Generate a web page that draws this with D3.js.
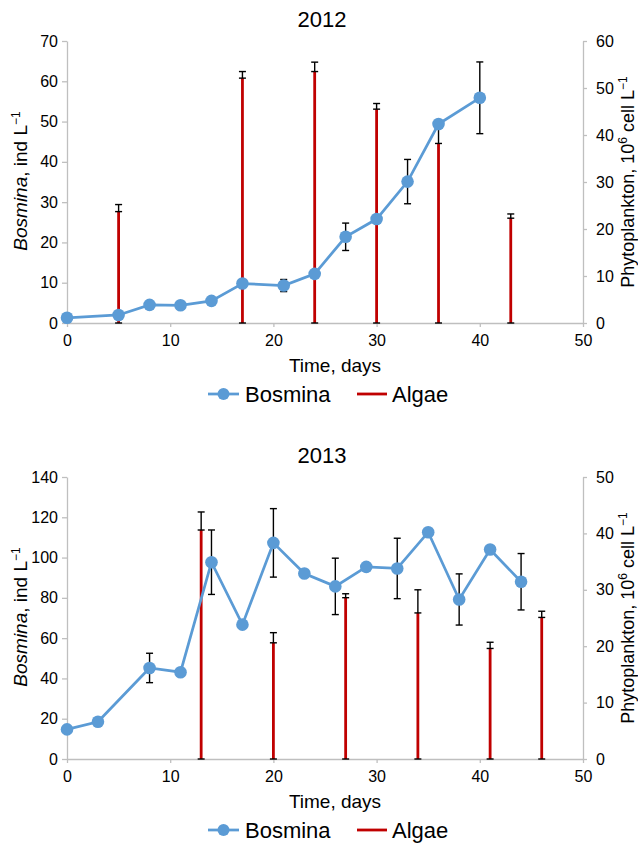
<!DOCTYPE html>
<html>
<head>
<meta charset="utf-8">
<style>
body { margin: 0; background: #fff; }
text { font-family: "Liberation Sans", Arial, sans-serif; fill: #000; }
</style>
</head>
<body>
<script src="https://cdn.jsdelivr.net/npm/d3@7"></script>
<script>

// 2012
var days2012 = [0, 5, 8, 11, 14, 17, 21, 24, 27, 30, 33, 36, 40];
var bosmina2012 = [1.3, 2.0, 4.5, 4.4, 5.5, 9.8, 9.3, 12.2, 21.4, 25.8, 35.1, 49.4, 55.9];
var bosminaErr2012 = [null, null, null, null, null, null, 1.5, null, 3.4, null, 5.5, null, 8.9];
var algaeDays2012 = [5, 17, 24, 30, 36, 43];
var algae2012 = [23.7, 52.1, 53.5, 45.5, 38.2, 22.3];
var algaeErr2012 = [1.5, 1.4, 2.0, 1.2, 3.6, 0.9];

// 2013
var days2013 = [0, 3, 8, 11, 14, 17, 20, 23, 26, 29, 32, 35, 38, 41, 44];
var bosmina2013 = [14.7, 18.5, 45.2, 43.1, 97.7, 66.7, 107.3, 92.1, 85.7, 95.4, 94.6, 112.6, 79.2, 104.0, 88.0];
var bosminaErr2013 = [null, null, 7.3, null, 16, null, 17, null, 14, null, 15, null, 12.7, null, 14];
var algaeDays2013 = [13, 20, 27, 34, 41, 46];
var algae2013 = [40.6, 20.6, 28.6, 25.9, 19.6, 25.1];
var algaeErr2013 = [3.2, 1.8, 0.7, 4.1, 1.1, 1.1];

var xTicks = [0, 10, 20, 30, 40, 50];
var leftTicks2012 = [0, 10, 20, 30, 40, 50, 60, 70];
var rightTicks2012 = [0, 10, 20, 30, 40, 50, 60];
var leftTicks2013 = [0, 20, 40, 60, 80, 100, 120, 140];
var rightTicks2013 = [0, 10, 20, 30, 40, 50];

var blue = "#5b9bd5", red = "#c00000", grey = "#bfbfbf";

var svg = d3.select("body").append("svg")
    .attr("width", 638)
    .attr("height", 847);

var x = d3.scaleLinear().domain([0, 50]).range([67, 583]);

function styleAxis(a) {
    a.attr("font-size", 16).attr("font-family", "Liberation Sans, Arial, sans-serif");
    a.selectAll("path, line").attr("stroke", grey).attr("stroke-width", 1.3);
    a.selectAll("text").attr("fill", "#000");
}

function cap(g, cx, cy) {
    g.append("line")
        .attr("x1", cx - 3.5).attr("x2", cx + 3.5)
        .attr("y1", cy).attr("y2", cy)
        .attr("stroke", "#000").attr("stroke-width", 1.4);
}

function panel(top, title, days, bos, bosErr, leftTicks, aDays, algae, aErr, rightTicks) {
    var g = svg.append("g").attr("transform", "translate(0," + top + ")");
    var yL = d3.scaleLinear().domain([0, d3.max(leftTicks)]).range([323, 41]);
    var yR = d3.scaleLinear().domain([0, d3.max(rightTicks)]).range([323, 41]);

    g.append("text").attr("x", 322).attr("y", 27)
        .attr("text-anchor", "middle").attr("font-size", 22).text(title);

    g.append("g").attr("transform", "translate(0,323)")
        .call(d3.axisBottom(x).tickValues(xTicks).tickSize(4).tickSizeOuter(0).tickPadding(8))
        .call(styleAxis);
    g.append("g").attr("transform", "translate(67,0)")
        .call(d3.axisLeft(yL).tickValues(leftTicks).tickSize(5).tickSizeOuter(0).tickPadding(4))
        .call(styleAxis);
    g.append("g").attr("transform", "translate(583,0)")
        .call(d3.axisRight(yR).tickValues(rightTicks).tickSize(4).tickSizeOuter(0).tickPadding(9))
        .call(styleAxis);

    // axis titles
    var lt = g.append("text").attr("transform", "translate(27,181) rotate(-90)")
        .attr("text-anchor", "middle").attr("font-size", 19);
    lt.append("tspan").attr("font-style", "italic").text("Bosmina");
    lt.append("tspan").text(", ind L");
    lt.append("tspan").attr("font-size", 12).attr("dy", -7).text("\u22121");

    var rt = g.append("text").attr("transform", "translate(634,182) rotate(-90)")
        .attr("text-anchor", "middle").attr("font-size", 18);
    rt.append("tspan").text("Phytoplankton, 10");
    rt.append("tspan").attr("font-size", 12).attr("dy", -7).text("6");
    rt.append("tspan").attr("dy", 7).text(" cell L");
    rt.append("tspan").attr("font-size", 12).attr("dy", -7).text("\u22121");

    g.append("text").attr("x", 335).attr("y", 372)
        .attr("text-anchor", "middle").attr("font-size", 19).text("Time, days");

    // algae bars with error bars
    var aData = aDays.map(function(d, i) { return {d: d, v: algae[i], e: aErr[i]}; });
    g.selectAll(".alg").data(aData).join("line").attr("class", "alg")
        .attr("x1", function(d) { return x(d.d); })
        .attr("x2", function(d) { return x(d.d); })
        .attr("y1", yR(0))
        .attr("y2", function(d) { return yR(d.v); })
        .attr("stroke", red).attr("stroke-width", 2.8);
    aData.forEach(function(d) {
        var cx = x(d.d);
        g.append("line").attr("x1", cx).attr("x2", cx)
            .attr("y1", yR(d.v)).attr("y2", yR(d.v + d.e))
            .attr("stroke", "#000").attr("stroke-width", 1.4);
        cap(g, cx, yR(0));
        cap(g, cx, yR(d.v));
        cap(g, cx, yR(d.v + d.e));
    });

    // bosmina
    var bData = days.map(function(d, i) { return {d: d, v: bos[i], e: bosErr[i]}; });
    bData.filter(function(d) { return d.e != null; }).forEach(function(d) {
        var cx = x(d.d);
        g.append("line").attr("x1", cx).attr("x2", cx)
            .attr("y1", yL(d.v - d.e)).attr("y2", yL(d.v + d.e))
            .attr("stroke", "#000").attr("stroke-width", 1.4);
        cap(g, cx, yL(d.v - d.e));
        cap(g, cx, yL(d.v + d.e));
    });

    g.append("path").datum(bData)
        .attr("fill", "none").attr("stroke", blue).attr("stroke-width", 2.75)
        .attr("d", d3.line().x(function(d) { return x(d.d); }).y(function(d) { return yL(d.v); }));
    g.selectAll(".pt").data(bData).join("circle").attr("class", "pt")
        .attr("cx", function(d) { return x(d.d); })
        .attr("cy", function(d) { return yL(d.v); })
        .attr("r", 6.3).attr("fill", blue);

    // legend
    var lg = g.append("g");
    lg.append("line").attr("x1", 208).attr("x2", 239).attr("y1", 394).attr("y2", 394)
        .attr("stroke", blue).attr("stroke-width", 2.75);
    lg.append("circle").attr("cx", 223.5).attr("cy", 394).attr("r", 6).attr("fill", blue);
    lg.append("text").attr("x", 245).attr("y", 402).attr("font-size", 22).text("Bosmina");
    lg.append("line").attr("x1", 357).attr("x2", 387).attr("y1", 394).attr("y2", 394)
        .attr("stroke", red).attr("stroke-width", 2.8);
    lg.append("text").attr("x", 392).attr("y", 402).attr("font-size", 22).text("Algae");
}

panel(0, "2012", days2012, bosmina2012, bosminaErr2012, leftTicks2012,
      algaeDays2012, algae2012, algaeErr2012, rightTicks2012);
panel(436, "2013", days2013, bosmina2013, bosminaErr2013, leftTicks2013,
      algaeDays2013, algae2013, algaeErr2013, rightTicks2013);

</script>
</body>
</html>
